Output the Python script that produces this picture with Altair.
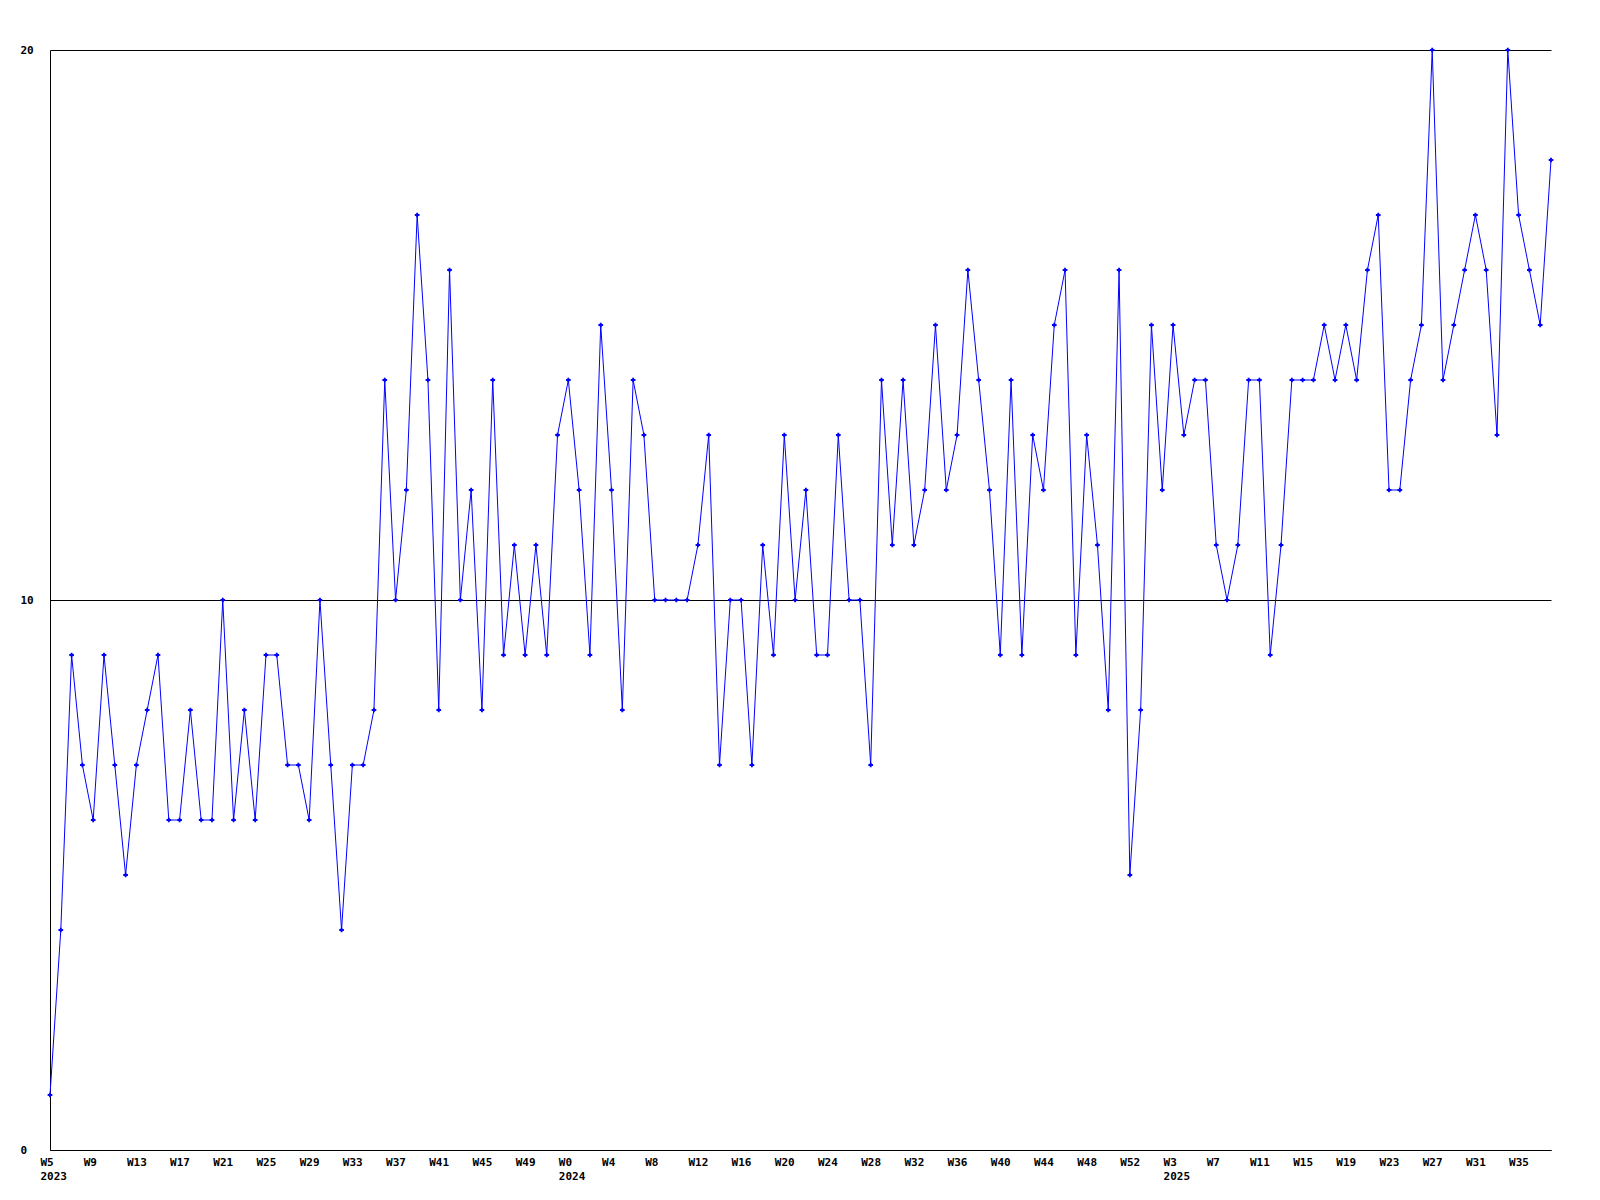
import altair as alt
import pandas as pd

# weekly values, 2023 W5 ... 2025 W38 (one per week)
values = [1, 4, 9, 7, 6, 9, 7, 5, 7, 8,
          9, 6, 6, 8, 6, 6, 10, 6, 8, 6,
          9, 9, 7, 7, 6, 10, 7, 4, 7, 7,
          8, 14, 10, 12, 17, 14, 8, 16, 10, 12,
          8, 14, 9, 11, 9, 11, 9, 13, 14, 12,
          9, 15, 12, 8, 14, 13, 10, 10, 10, 10,
          11, 13, 7, 10, 10, 7, 11, 9, 13, 10,
          12, 9, 9, 13, 10, 10, 7, 14, 11, 14,
          11, 12, 15, 12, 13, 16, 14, 12, 9, 14,
          9, 13, 12, 15, 16, 9, 13, 11, 8, 16,
          5, 8, 15, 12, 15, 13, 14, 14, 11, 10,
          11, 14, 14, 9, 11, 14, 14, 14, 15, 14,
          15, 14, 16, 17, 12, 12, 14, 15, 20, 14,
          15, 16, 17, 16, 13, 20, 17, 16, 15, 18]

# x tick labels (one tick every 4 weeks)
tick_labels = ["W5", "W9", "W13", "W17", "W21", "W25", "W29", "W33", "W37",
               "W41", "W45", "W49", "W0", "W4", "W8", "W12", "W16", "W20",
               "W24", "W28", "W32", "W36", "W40", "W44", "W48", "W52", "W3",
               "W7", "W11", "W15", "W19", "W23", "W27", "W31", "W35"]
tick_years = ["2023", "", "", "", "", "", "", "", "", "", "", "", "2024",
              "", "", "", "", "", "", "", "", "", "", "", "", "", "2025",
              "", "", "", "", "", "", "", ""]
y_ticks = [0, 10, 20]

df = pd.DataFrame({"idx": list(range(len(values))), "value": values})
tick_pos = [4 * i for i in range(len(tick_labels))]

parts = []
for w, yr in zip(tick_labels, tick_years):
    if yr:
        parts.append("['%s','%s']" % (w, yr))
    else:
        parts.append("'%s'" % w)
label_expr = "[" + ",".join(parts) + "][round(datum.value/4)]"

FONT = "DejaVu Sans Mono"

x = alt.X("idx:Q",
          scale=alt.Scale(domain=[0, len(values) - 1], nice=False, zero=False),
          axis=alt.Axis(values=tick_pos, labelExpr=label_expr, title=None,
                        grid=False, tickSize=0, labelAlign="left",
                        labelBaseline="top", labelOffset=-10, labelPadding=6,
                        labelFlush=False, labelOverlap=False,
                        labelLineHeight=14, labelFont=FONT, labelFontSize=11,
                        labelFontWeight="bold", labelColor="black",
                        domainColor="black", domainWidth=1))
y = alt.Y("value:Q",
          scale=alt.Scale(domain=[0, 20], nice=False),
          axis=alt.Axis(values=y_ticks, title=None, grid=True,
                        gridColor="black", gridOpacity=1, gridWidth=1,
                        tickSize=0, labelAlign="left", labelPadding=30,
                        labelFont=FONT, labelFontSize=11,
                        labelFontWeight="bold", labelColor="black",
                        domainColor="black", domainWidth=1))

line = alt.Chart(df).mark_line(color="#0000ff", strokeWidth=1).encode(x=x, y=y)
pts = alt.Chart(df).mark_point(shape="cross", filled=True, size=22,
                               color="#0000ff", opacity=1).encode(x=x, y=y)

chart = (line + pts).properties(
    width=1501, height=1100,
    autosize=alt.AutoSizeParams(type="none"),
    padding={"left": 42, "top": 42, "right": 40, "bottom": 42},
    background="white",
).configure_view(stroke=None)

chart.save("out.html", embed_options={"renderer": "svg", "actions": False})
